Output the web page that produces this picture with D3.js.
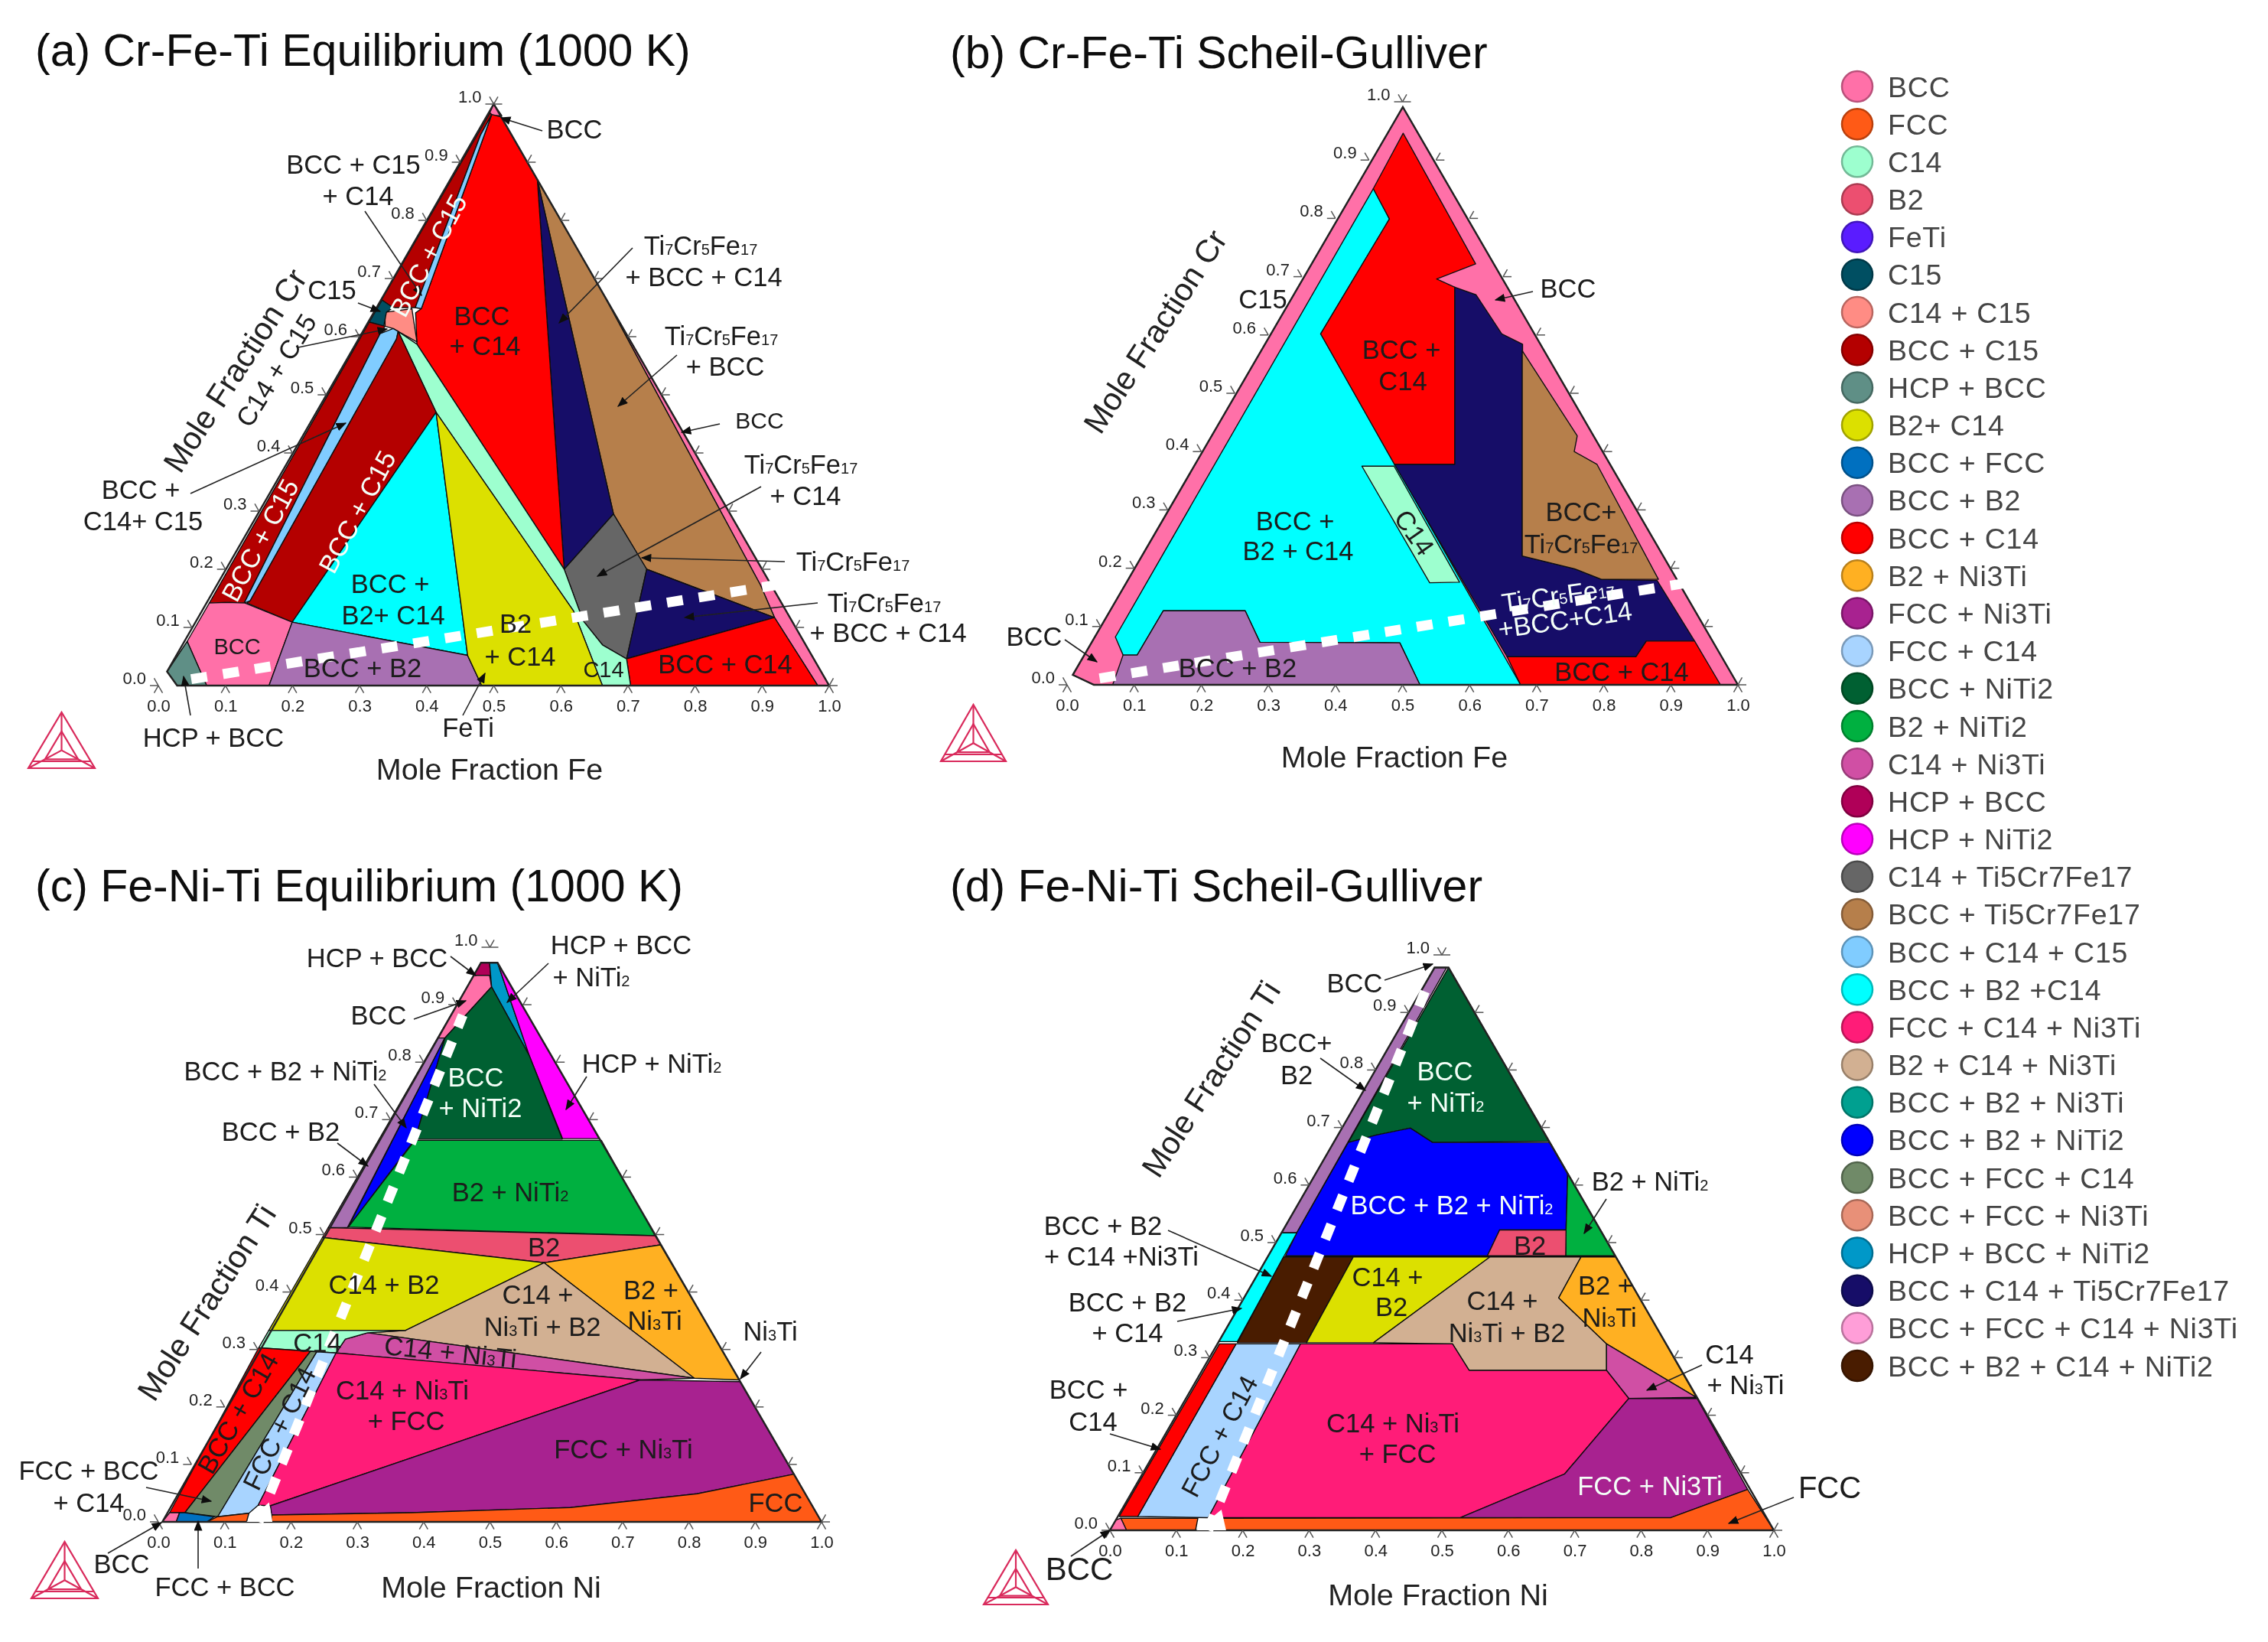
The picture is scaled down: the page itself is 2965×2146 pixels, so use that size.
<!DOCTYPE html>
<html>
<head>
<meta charset="utf-8">
<title>Ternary phase diagrams</title>
<script src="https://cdn.jsdelivr.net/npm/d3@7"></script>
<style>
  body { margin: 0; background: #fff; }
  svg { display: block; }
  text { font-family: "Liberation Sans", Arial, sans-serif; }
</style>
</head>
<body>
<svg id="chart" width="2965" height="2146"></svg>
<script>
// legend, same order as the figure
const phaseNames = ['BCC', 'FCC', 'C14', 'B2', 'FeTi', 'C15', 'C14 + C15', 'BCC + C15', 'HCP + BCC', 'B2+ C14',
  'BCC + FCC', 'BCC + B2', 'BCC + C14', 'B2 + Ni3Ti', 'FCC + Ni3Ti', 'FCC + C14', 'BCC + NiTi2', 'B2 + NiTi2',
  'C14 + Ni3Ti', 'HCP + BCC', 'HCP + NiTi2', 'C14 + Ti5Cr7Fe17', 'BCC + Ti5Cr7Fe17', 'BCC + C14 + C15',
  'BCC + B2 +C14', 'FCC + C14 + Ni3Ti', 'B2 + C14 + Ni3Ti', 'BCC + B2 + Ni3Ti', 'BCC + B2 + NiTi2',
  'BCC + FCC + C14', 'BCC + FCC + Ni3Ti', 'HCP + BCC + NiTi2', 'BCC + C14 + Ti5Cr7Fe17',
  'BCC + FCC + C14 + Ni3Ti', 'BCC + B2 + C14 + NiTi2'];
const phaseColors = ['#ff6fa8', '#ff5a14', '#9dffcf', '#ec5070', '#5a1eff', '#004f62', '#ff8c84', '#b40000', '#5f8f86', '#dce000',
  '#0070c0', '#a870b2', '#ff0000', '#ffb024', '#a82090', '#a8d4ff', '#006030', '#00b040',
  '#d050a4', '#b00058', '#ff00ff', '#666666', '#b67f4c', '#80ccff',
  '#00ffff', '#ff1a78', '#d2b092', '#00a090', '#0000ff',
  '#6f8a68', '#e89078', '#0098c8', '#140a68',
  '#ff9ed8', '#4a1a00'];

const tickValues = d3.range(0, 11).map(d => d / 10);

// regions as [phase index in the legend, [[bottom axis fraction, left axis fraction], ...]]
const regionsA = [
  [0, [[0, 1], [.323, .677], [1, 0], [.983, 0], [.86, .117], [.811, .173], [.323, .677]]],
  [0, [[0, 1], [.022, .98], [.002, .98]]],
  [22, [[.13, .87], [.323, .677], [.811, .173], [.86, .117], [.628, .2], [.531, .295]]],
  [32, [[.13, .87], [.531, .295], [.505, .2]]],
  [21, [[.531, .295], [.628, .2], [.675, .046], [.627, .07], [.578, .111], [.505, .2]]],
  [32, [[.628, .2], [.86, .117], [.675, .046]]],
  [12, [[.675, .046], [.86, .117], [.983, 0], [.704, 0]]],
  [12, [[.022, .978], [.13, .87], [.505, .2], [.092, .587], [.063, .641], [.068, .648], [.006, .982]]],
  [2, [[.053, .609], [.092, .587], [.505, .2], [.578, .111], [.627, .07], [.675, .046], [.704, 0], [.662, 0], [.555, .128], [.179, .47]]],
  [7, [[.002, .985], [.006, .982], [.007, .946], [.058, .65], [.025, .65], [.001, .66]]],
  [23, [[.007, .946], [.058, .65], [.068, .648], [.006, .982]]],
  [6, [[.017, .642], [.054, .648], [.09, .591], [.053, .609], [.043, .614], [.029, .618]]],
  [5, [[.002, .663], [.025, .65], [.019, .642], [.027, .618], [.002, .625]]],
  [7, [[.002, .625], [.029, .618], [.028, .605], [.057, .142], [.005, .142]]],
  [23, [[.028, .605], [.043, .614], [.053, .609], [.057, .596], [.064, .146], [.057, .142]]],
  [7, [[.057, .596], [.053, .609], [.179, .47], [.145, .109], [.061, .142], [.064, .146]]],
  [0, [[.005, .076], [.005, .142], [.031, .143], [.058, .142], [.145, .109], [.165, 0], [.072, 0]]],
  [8, [[.001, .024], [.005, .076], [.072, 0], [.028, 0]]],
  [24, [[.179, .47], [.435, .052], [.145, .109]]],
  [11, [[.145, .109], [.435, .052], [.482, 0], [.165, 0]]],
  [4, [[.435, .052], [.45, .046], [.499, 0], [.482, 0]]],
  [9, [[.179, .47], [.555, .128], [.662, 0], [.499, 0], [.482, 0], [.435, .052]]]
];

const regionsB = [
  [0, [[0, .017], [.04, 0], [1, 0], [.005, .991]]],
  [24, [[.031, .851], [.081, .799], [.077, .602], [.676, 0], [.526, 0], [.46, .072], [.251, .073], [.202, .127], [.08, .127], [.079, .051], [.058, .051], [.031, .082]]],
  [12, [[.028, .946], [.248, .722], [.203, .696], [.237, .682], [.389, .378], [.299, .378], [.077, .602], [.081, .799], [.031, .851]]],
  [32, [[.237, .682], [.275, .669], [.347, .602], [.387, .584], [.568, .221], [.657, .199], [.706, .181], [.79, .179], [.898, .075], [.826, .075], [.824, .048], [.632, .048], [.299, .378], [.389, .378]]],
  [22, [[.392, .573], [.547, .427], [.556, .4], [.601, .378], [.791, .181], [.706, .181], [.657, .199], [.568, .221]]],
  [12, [[.632, .048], [.824, .048], [.826, .075], [.898, .075], [.974, 0], [.676, 0]]],
  [11, [[.068, 0], [.058, .051], [.079, .051], [.08, .127], [.202, .127], [.251, .073], [.46, .072], [.526, 0]]],
  [2, [[.252, .375], [.3, .375], [.497, .176], [.453, .175]]]
];

const regionsC = [
  [19, [[0, .973], [.013, .973], [.037, .931], [.024, .951], [0, .951]]],
  [0, [[0, .951], [.024, .951], [.037, .931], [.011, .842], [0, .842]]],
  [31, [[.013, .973], [.025, .973], [.154, .811], [.037, .931]]],
  [20, [[.025, .973], [.331, .667], [.276, .667], [.154, .811]]],
  [16, [[.037, .931], [.154, .811], [.276, .666], [.054, .666], [.011, .842]]],
  [11, [[0, .842], [.011, .842], [.029, .512], [0, .512]]],
  [28, [[.011, .842], [.054, .666], [.03, .513]]],
  [17, [[.055, .664], [.336, .664], [.5, .498], [.03, .513]]],
  [3, [[0, .512], [.5, .498], [.516, .482], [.356, .451], [0, .495]]],
  [9, [[0, .495], [.356, .451], [.206, .333], [0, .333]]],
  [13, [[.356, .451], [.516, .482], [.753, .247], [.683, .25]]],
  [26, [[.356, .451], [.683, .25], [.151, .329], [.206, .333]]],
  [18, [[.151, .329], [.683, .25], [.603, .247], [.121, .294], [.123, .318]]],
  [2, [[0, .333], [.206, .333], [.151, .329], [.123, .318], [.121, .294], [.081, .297], [0, .303]]],
  [12, [[0, .303], [.081, .297], [.032, .016], [.009, .016]]],
  [29, [[.081, .297], [.091, .296], [.085, .009], [.032, .016]]],
  [15, [[.091, .296], [.121, .294], [.136, .029], [.129, .015], [.085, .009]]],
  [25, [[.121, .294], [.603, .247], [.155, .028], [.136, .029]]],
  [14, [[.603, .247], [.755, .244], [.917, .083], [.788, .049], [.609, .025], [.374, .016], [.165, .012], [.155, .028]]],
  [1, [[.165, .012], [.374, .016], [.609, .025], [.788, .049], [.917, .083], [1, 0], [.17, 0]]],
  [1, [[.073, 0], [.085, .009], [.129, .015], [.133, 0]]],
  [0, [[.006, 0], [.009, .016], [.024, .016], [.027, 0]]],
  [10, [[.027, 0], [.024, .016], [.032, .016], [.08, .009], [.073, 0]]]
];

const regionsD = [
  [11, [[0, .978], [.018, .978], [.023, .517], [0, .517]]],
  [16, [[.021, .978], [.324, .676], [.149, .674], [.103, .699], [.058, .687], [.022, .674]]],
  [28, [[.022, .674], [.058, .687], [.103, .699], [.149, .674], [.326, .674], [.379, .621], [.426, .522], [.326, .522], [.33, .477], [.026, .477], [.023, .517]]],
  [17, [[.379, .621], [.523, .477], [.448, .477], [.426, .522]]],
  [3, [[.326, .522], [.426, .522], [.448, .477], [.33, .477]]],
  [24, [[0, .517], [.023, .517], [.028, .328], [0, .328]]],
  [34, [[.024, .475], [.129, .475], [.133, .326], [.029, .326]]],
  [9, [[.129, .475], [.335, .475], [.234, .326], [.133, .326]]],
  [26, [[.335, .475], [.472, .475], [.474, .404], [.586, .324], [.609, .278], [.402, .278], [.354, .324], [.234, .326]]],
  [13, [[.472, .475], [.525, .475], [.768, .231], [.586, .324], [.474, .404]]],
  [18, [[.586, .324], [.768, .231], [.667, .229], [.609, .278]]],
  [25, [[.125, .324], [.354, .324], [.402, .278], [.609, .278], [.667, .229], [.636, .098], [.517, .022], [.137, .022]]],
  [15, [[.028, .324], [.125, .324], [.137, .022], [.03, .024]]],
  [12, [[.003, .324], [.028, .324], [.03, .024], [.002, .024]]],
  [14, [[.667, .229], [.77, .229], [.925, .071], [.834, .022], [.517, .022], [.636, .098]]],
  [1, [[.925, .071], [1, 0], [.173, 0], [.158, .021], [.834, .022]]],
  [1, [[.006, .021], [.122, .021], [.129, 0], [.025, 0]]],
  [0, [[0, .018], [.006, .021], [.025, 0], [0, 0]]]
];

// outer edge of the drawn area in each diagram
const outlineA = [[.028, 0], [1, 0], [0, 1], [.001, .024]];
const outlineB = [[.04, 0], [1, 0], [.005, .991], [0, .017]];
const outlineC = [[.006, 0], [1, 0], [.025, .973], [0, .973]];
const outlineD = [[0, 0], [1, 0], [.021, .978], [0, .978]];

// white dashed composition line, two end points
const dashA = [[.0435, .011], [.835, .173]];
const dashB = [[.043, .011], [.833, .174]];
const dashC = [[.151, 0], [.018, .882]];
const dashD = [[.148, 0], [.003, .958]];

// white wedge where the dashed line leaves the bottom axis
const wedgeC = [[.133, 0], [.172, 0], [.15, .034]];
const wedgeD = [[.13, 0], [.175, 0], [.15, .036]];

const titles = ['(a) Cr-Fe-Ti Equilibrium (1000 K)', '(b) Cr-Fe-Ti Scheil-Gulliver',
  '(c) Fe-Ni-Ti Equilibrium (1000 K)', '(d) Fe-Ni-Ti Scheil-Gulliver'];
const bottomTitles = ['Mole Fraction Fe', 'Mole Fraction Fe', 'Mole Fraction Ni', 'Mole Fraction Ni'];
const leftTitles = ['Mole Fraction Cr', 'Mole Fraction Cr', 'Mole Fraction Ti', 'Mole Fraction Ti'];

// layout below here, page pixels
const frames = [
  { x0: 207, x1: 1084, y0: 896, y1: 136, title: [46, 65], bottom: [640, 1005], left: [307, 484], logo: [37, 1004, 87, 73], regions: regionsA, outline: outlineA, dash: dashA, dashArray: '21 21' },
  { x0: 1395, x1: 2272, y0: 895, y1: 133, title: [1242, 68], bottom: [1823, 989], left: [1510, 433], logo: [1230, 995, 85, 74], regions: regionsB, outline: outlineB, dash: dashB, dashArray: '21 21' },
  { x0: 207, x1: 1074, y0: 1989, y1: 1238, title: [46, 1157], bottom: [642, 2074], left: [270, 1702], logo: [41, 2089, 87, 74], regions: regionsC, outline: outlineC, dash: dashC, dashArray: '21 20', wedge: wedgeC },
  { x0: 1451, x1: 2319, y0: 2000, y1: 1248, title: [1242, 1157], bottom: [1880, 2084], left: [1583, 1410], logo: [1286, 2097, 84, 71], regions: regionsD, outline: outlineD, dash: dashD, dashArray: '21 20', wedge: wedgeD }
];

const W = '#f4fff8';
const annotations = [
  [
    ['BCC', 751, 169], ['BCC + C15', 462, 215], ['+ C14', 468, 256], ['C15', 434, 379],
    ['C14 + C15', 361, 484, { rot: -58 }], ['BCC +', 184, 640], ['C14+ C15', 187, 681],
    ['BCC + C15', 560, 334, { rot: -62, fill: W }], ['BCC + C15', 340, 706, { rot: -62, fill: W }], ['BCC + C15', 467, 669, { rot: -62, fill: W }],
    ['BCC', 310, 845, { size: 29 }], ['BCC', 630, 413], ['+ C14', 634, 452], ['BCC +', 510, 763], ['B2+ C14', 514, 804],
    ['BCC + B2', 474, 873], ['B2', 674, 815], ['+ C14', 680, 858], ['C14', 789, 875, { size: 29 }], ['BCC + C14', 948, 868],
    ['Ti_7Cr_5Fe_17', 916, 321], ['+ BCC + C14', 920, 362], ['Ti_7Cr_5Fe_17', 943, 439], ['+ BCC', 948, 479], ['BCC', 993, 549, { size: 30 }],
    ['Ti_7Cr_5Fe_17', 1047, 607], ['+ C14', 1053, 648], ['Ti_7Cr_5Fe_17', 1115, 734], ['Ti_7Cr_5Fe_17', 1156, 788], ['+ BCC + C14', 1161, 827],
    ['FeTi', 612, 951], ['HCP + BCC', 279, 964]
  ],
  [
    ['BCC', 2050, 377], ['BCC +', 1832, 457], ['C14', 1834, 498], ['BCC +', 1693, 681], ['B2 + C14', 1697, 720],
    ['C14', 1849, 696, { rot: 55 }], ['BCC+', 2067, 669], ['Ti_7Cr_5Fe_17', 2067, 711], ['Ti_7Cr_5Fe_17', 2037, 778, { rot: -8, fill: W }],
    ['+BCC+C14', 2046, 810, { rot: -8, fill: W }], ['BCC + B2', 1618, 873], ['BCC + C14', 2120, 878], ['BCC', 1352, 832], ['C15', 1651, 391]
  ],
  [
    ['HCP + BCC', 493, 1252], ['HCP + BCC', 812, 1235], ['+ NiTi_2', 773, 1277], ['BCC', 495, 1327], ['BCC + B2 + NiTi_2', 373, 1400],
    ['BCC + B2', 367, 1479], ['HCP + NiTi_2', 852, 1390], ['BCC', 622, 1408, { fill: W }], ['+ NiTi2', 628, 1448, { fill: W }],
    ['B2 + NiTi_2', 667, 1558], ['B2', 711, 1630], ['C14 + B2', 502, 1679], ['C14 +', 703, 1692], ['Ni_3Ti + B2', 709, 1734],
    ['B2 +', 851, 1686], ['Ni_3Ti', 856, 1726], ['Ni_3Ti', 1007, 1740], ['C14', 415, 1755], ['C14 + Ni_3Ti', 589, 1767, { rot: 6 }],
    ['C14 + Ni_3Ti', 526, 1817], ['+ FCC', 531, 1857], ['BCC + C14', 311, 1847, { rot: -60 }], ['FCC + C14', 365, 1867, { rot: -64 }],
    ['FCC + Ni_3Ti', 815, 1894], ['FCC', 1014, 1964], ['FCC + BCC', 116, 1922], ['+ C14', 116, 1964], ['BCC', 159, 2044], ['FCC + BCC', 294, 2074]
  ],
  [
    ['BCC', 1771, 1285], ['BCC+', 1695, 1363], ['B2', 1695, 1405], ['BCC', 1889, 1400, { fill: W }], ['+ NiTi_2', 1890, 1441, { fill: W }],
    ['BCC + B2 + NiTi_2', 1898, 1575, { fill: W }], ['B2', 2000, 1628], ['B2 + NiTi_2', 2157, 1544], ['C14 +', 1814, 1669], ['B2', 1819, 1708],
    ['B2 +', 2099, 1680], ['Ni_3Ti', 2104, 1722], ['C14 +', 1964, 1700], ['Ni_3Ti + B2', 1970, 1742], ['BCC + B2', 1442, 1602],
    ['+ C14 +Ni3Ti', 1466, 1642], ['BCC + B2', 1474, 1702], ['+ C14', 1474, 1742], ['BCC +', 1423, 1816], ['C14', 1429, 1858],
    ['C14 + Ni_3Ti', 1821, 1860], ['+ FCC', 1827, 1900], ['FCC + C14', 1594, 1877, { rot: -62 }], ['FCC + Ni3Ti', 2157, 1942, { fill: W }],
    ['C14', 2261, 1770], ['+ Ni_3Ti', 2282, 1810], ['FCC', 2392, 1944, { size: 40 }], ['BCC', 1411, 2050, { size: 42 }]
  ]
];

const leaders = [
  [[709, 171, 655, 154], [477, 276, 551, 386], [468, 396, 497, 407], [390, 454, 506, 430], [249, 645, 452, 553], [827, 324, 731, 422],
   [885, 464, 808, 531], [941, 554, 891, 565], [995, 636, 781, 753], [1026, 734, 839, 729], [1069, 788, 895, 807], [605, 935, 634, 880], [249, 935, 240, 884]],
  [[2004, 381, 1955, 392], [1392, 836, 1434, 865]],
  [[589, 1250, 622, 1275], [717, 1259, 663, 1310], [541, 1332, 609, 1308], [489, 1417, 531, 1474], [441, 1494, 481, 1524], [767, 1407, 740, 1450],
   [995, 1767, 968, 1802], [191, 1944, 276, 1962], [141, 2030, 211, 1990], [259, 2050, 259, 1988]],
  [[1810, 1281, 1873, 1260], [1726, 1383, 1785, 1425], [2100, 1567, 2071, 1612], [1527, 1608, 1662, 1668], [1539, 1727, 1623, 1710],
   [1451, 1874, 1517, 1894], [2225, 1784, 2153, 1817], [2345, 1957, 2260, 1991], [1400, 2034, 1451, 2000]]
];

const svg = d3.select('#chart');
svg.append('rect').attr('width', 2965).attr('height', 2146).attr('fill', '#fff');

const defs = svg.append('defs');
defs.append('marker').attr('id', 'head')
  .attr('viewBox', '0 0 10 8').attr('refX', 9).attr('refY', 4)
  .attr('markerWidth', 14).attr('markerHeight', 11).attr('markerUnits', 'userSpaceOnUse')
  .attr('orient', 'auto')
  .append('path').attr('d', 'M0,0L10,4L0,8Z').attr('fill', '#111');
defs.append('filter').attr('id', 'soft')
  .append('feGaussianBlur').attr('stdDeviation', 0.7);

const root = svg.append('g').attr('filter', 'url(#soft)');

// Ti_7 style markup: digits after _ come out small
function richText(sel, str) {
  str.split(/(_\d+)/).forEach(part => {
    if (!part) return;
    if (part[0] === '_') sel.append('tspan').attr('font-size', '58%').text(part.slice(1));
    else sel.append('tspan').text(part);
  });
}

function drawLogo(g, [x, y, w, h]) {
  const o = [x, y], r = [x + w, y], a = [x + w / 2, y - h];
  const c = [x + w / 2, y - h * 0.32];
  const mid = (p, q, k) => [p[0] + (q[0] - p[0]) * k, p[1] + (q[1] - p[1]) * k];
  const inner = [mid(c, o, 0.5), mid(c, r, 0.5), mid(c, a, 0.5)];
  const line = d3.line();
  const logo = g.append('g').attr('fill', 'none').attr('stroke', '#d92c5c').attr('stroke-width', 2.2);
  logo.append('path').attr('d', line([o, r, a]) + 'Z');
  logo.append('path').attr('d', line(inner) + 'Z');
  [o, r, a].forEach(p => logo.append('path').attr('d', line([c, p])));
  logo.append('path').attr('d', line([[x + 6, y - 9], [x + w - 6, y - 9]]));
}

frames.forEach((f, i) => {
  const x = d3.scaleLinear().domain([0, 1]).range([f.x0, f.x1]);
  const y = d3.scaleLinear().domain([0, 1]).range([f.y0, f.y1]);
  const px = ([a, b]) => [x(a + b / 2), y(b)];
  const line = d3.line().x(d => px(d)[0]).y(d => px(d)[1]);
  const g = root.append('g');

  g.selectAll('path.region').data(f.regions).join('path')
    .attr('class', 'region')
    .attr('d', d => line(d[1]) + 'Z')
    .attr('fill', d => phaseColors[d[0]])
    .attr('stroke', '#111').attr('stroke-width', 1.4).attr('stroke-linejoin', 'round');

  g.append('path').attr('d', line(f.outline) + 'Z')
    .attr('fill', 'none').attr('stroke', '#222').attr('stroke-width', 2.4);

  g.append('path').attr('d', line(f.dash))
    .attr('fill', 'none').attr('stroke', '#fff').attr('stroke-width', 13)
    .attr('stroke-dasharray', f.dashArray);
  if (f.wedge) g.append('path').attr('d', line(f.wedge) + 'Z').attr('fill', '#fff');

  // bottom axis through d3, tick marks added by hand below
  g.append('g').attr('transform', `translate(0,${f.y0})`)
    .call(d3.axisBottom(x).tickValues(tickValues).tickSize(0).tickPadding(18).tickFormat(d3.format('.1f')))
    .call(s => s.select('.domain').remove())
    .selectAll('text').attr('font-size', 22).attr('font-family', '"Liberation Sans", Arial, sans-serif').attr('fill', '#222');

  const leftPts = tickValues.map(t => [0, t]);
  const rightPts = tickValues.map(t => [1 - t, t]);
  const bottomPts = tickValues.map(t => [t, 0]);

  // two short arms pointing out of the triangle at every tick
  const arm = 11;
  const c60 = Math.cos(Math.PI / 3), s60 = Math.sin(Math.PI / 3);
  const ticks = (pts, arms) => pts.forEach(p => {
    const [cx, cy] = px(p);
    arms.forEach(([dx, dy]) => {
      g.append('line').attr('x1', cx).attr('y1', cy)
        .attr('x2', cx + dx * arm).attr('y2', cy + dy * arm)
        .attr('stroke', '#555').attr('stroke-width', 1.5);
    });
  });
  ticks(bottomPts, [[c60, s60], [-c60, s60]]);
  ticks(leftPts, [[-1, 0], [-c60, -s60]]);
  ticks(rightPts, [[1, 0], [c60, -s60]]);

  g.selectAll('text.left-tick').data(leftPts).join('text')
    .attr('class', 'left-tick')
    .attr('x', d => px(d)[0] - 16).attr('y', d => px(d)[1] - 2)
    .attr('text-anchor', 'end').attr('font-size', 22).attr('fill', '#222')
    .text(d => d3.format('.1f')(d[1]));

  // panel title and axis titles
  g.append('text').attr('x', f.title[0]).attr('y', f.title[1]).attr('dy', '.35em')
    .attr('font-size', 59).attr('fill', '#111').text(titles[i]);
  g.append('text').attr('x', f.bottom[0]).attr('y', f.bottom[1]).attr('dy', '.35em')
    .attr('text-anchor', 'middle').attr('font-size', 39.5).attr('fill', '#222').text(bottomTitles[i]);
  g.append('text').attr('transform', `translate(${f.left[0]},${f.left[1]}) rotate(-57)`).attr('dy', '.35em')
    .attr('text-anchor', 'middle').attr('font-size', 41.5).attr('fill', '#222').text(leftTitles[i]);

  leaders[i].forEach(([x1, y1, x2, y2]) => {
    g.append('line').attr('x1', x1).attr('y1', y1).attr('x2', x2).attr('y2', y2)
      .attr('stroke', '#222').attr('stroke-width', 1.6).attr('marker-end', 'url(#head)');
  });

  annotations[i].forEach(([str, ax, ay, o = {}]) => {
    g.append('text')
      .attr('transform', `translate(${ax},${ay}) rotate(${o.rot || 0})`)
      .attr('dy', '.35em').attr('text-anchor', 'middle')
      .attr('font-size', o.size || 34.5).attr('fill', o.fill || '#1a1a1a')
      .call(richText, str);
  });

  drawLogo(g, f.logo);
});

// legend
const legendY = d3.scalePoint().domain(d3.range(phaseNames.length)).range([113, 1785]);
const legend = root.append('g');
const rows = legend.selectAll('g').data(phaseNames).join('g')
  .attr('transform', (d, i) => `translate(0,${legendY(i)})`);
rows.append('circle').attr('cx', 2428).attr('r', 20)
  .attr('fill', (d, i) => phaseColors[i])
  .attr('stroke', (d, i) => d3.color(phaseColors[i]).darker(0.9))
  .attr('stroke-width', 2.5);
rows.append('text').attr('x', 2468).attr('dy', '.36em')
  .attr('font-size', 37.5).attr('letter-spacing', 0.8).attr('fill', '#444').text(d => d);
</script>
</body>
</html>
